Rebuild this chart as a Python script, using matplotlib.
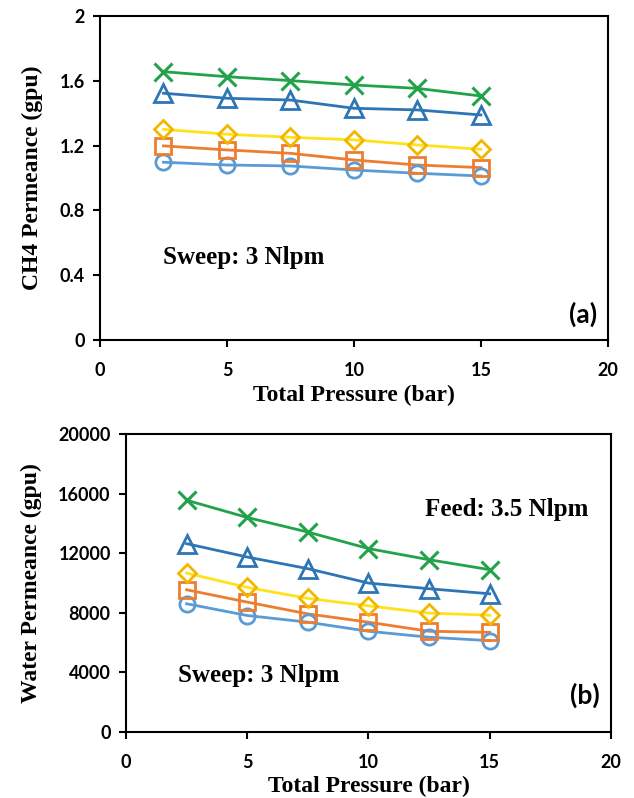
import matplotlib.pyplot as plt

pressure = [2.5, 5, 7.5, 10, 12.5, 15]

# CH4 permeance (gpu), panel (a)
ch4_x = [1.656, 1.625, 1.601, 1.574, 1.553, 1.506]
ch4_tri = [1.523, 1.492, 1.481, 1.430, 1.420, 1.389]
ch4_dia = [1.300, 1.270, 1.251, 1.235, 1.204, 1.177]
ch4_sq = [1.198, 1.173, 1.152, 1.111, 1.080, 1.064]
ch4_circ = [1.097, 1.080, 1.074, 1.049, 1.029, 1.012]

# Water permeance (gpu), panel (b)
h2o_x = [15550, 14390, 13410, 12300, 11550, 10880]
h2o_tri = [12630, 11730, 10950, 9980, 9600, 9260]
h2o_dia = [10650, 9690, 8950, 8450, 7960, 7820]
h2o_sq = [9530, 8700, 7910, 7350, 6740, 6670]
h2o_circ = [8590, 7800, 7350, 6740, 6340, 6110]

# line colour, marker edge colour, marker, size
styles = [
    ('#5b9bd5', '#5b9bd5', 'o', 11),
    ('#ed7d31', '#ed7d31', 's', 11),
    ('#ffe21a', '#f2b600', 'D', 9),
    ('#2e75b6', '#2e75b6', '^', 13),
    ('#22a24a', '#22a24a', 'x', 13),
]

serif = 'Liberation Serif'
sans = 'Lato'

fig = plt.figure(figsize=(6.34, 7.98), dpi=100)
ax1 = fig.add_axes([0.1577, 0.574, 0.801, 0.406])
ax2 = fig.add_axes([0.1987, 0.0833, 0.765, 0.3728])


def draw(ax, series, ymax, yticks, yticklabels, ylabel):
    for ys, (lc, mc, m, ms) in zip(series, styles):
        ax.plot(pressure, ys, color=lc, lw=2, zorder=2)
        ax.plot(pressure, ys, ls='none', marker=m, ms=ms, mfc='none',
                mec=mc, mew=2 if m != 'x' else 2.2, zorder=3)
    ax.set_xlim(0, 20)
    ax.set_ylim(0, ymax)
    ax.set_xticks([0, 5, 10, 15, 20])
    ax.set_yticks(yticks)
    ax.set_yticklabels(yticklabels)
    for s in ax.spines.values():
        s.set_linewidth(1.5)
    ax.tick_params(direction='out', length=5, width=1.5, labelsize=13)
    ax.tick_params(axis='x', pad=11)
    ax.tick_params(axis='y', pad=6)
    for lab in ax.get_xticklabels() + ax.get_yticklabels():
        lab.set_fontfamily(sans)
        lab.set_fontweight('bold')
    ax.set_xlabel('Total Pressure (bar)', fontfamily=serif, fontweight='bold',
                  fontsize=17, labelpad=4)
    ax.set_ylabel(ylabel, fontfamily=serif, fontweight='bold', fontsize=17,
                  labelpad=12)


draw(ax1, [ch4_circ, ch4_sq, ch4_dia, ch4_tri, ch4_x], 2,
     [0, 0.4, 0.8, 1.2, 1.6, 2], ['0', '0.4', '0.8', '1.2', '1.6', '2'],
     'CH4 Permeance (gpu)')
draw(ax2, [h2o_circ, h2o_sq, h2o_dia, h2o_tri, h2o_x], 20000,
     [0, 4000, 8000, 12000, 16000, 20000],
     ['0', '4000', '8000', '12000', '16000', '20000'],
     'Water Permeance (gpu)')

ax1.text(0.124, 0.253, 'Sweep: 3 Nlpm', transform=ax1.transAxes,
         fontfamily=serif, fontweight='bold', fontsize=18, va='center')
ax1.text(0.978, 0.080, '(a)', transform=ax1.transAxes, fontfamily=sans,
         fontweight='bold', fontsize=19, ha='right', va='center')
ax2.text(0.616, 0.745, 'Feed: 3.5 Nlpm', transform=ax2.transAxes,
         fontfamily=serif, fontweight='bold', fontsize=18, va='center')
ax2.text(0.107, 0.19, 'Sweep: 3 Nlpm', transform=ax2.transAxes,
         fontfamily=serif, fontweight='bold', fontsize=18, va='center')
ax2.text(0.977, 0.123, '(b)', transform=ax2.transAxes, fontfamily=sans,
         fontweight='bold', fontsize=19, ha='right', va='center')

plt.savefig('out.png', dpi=100)
